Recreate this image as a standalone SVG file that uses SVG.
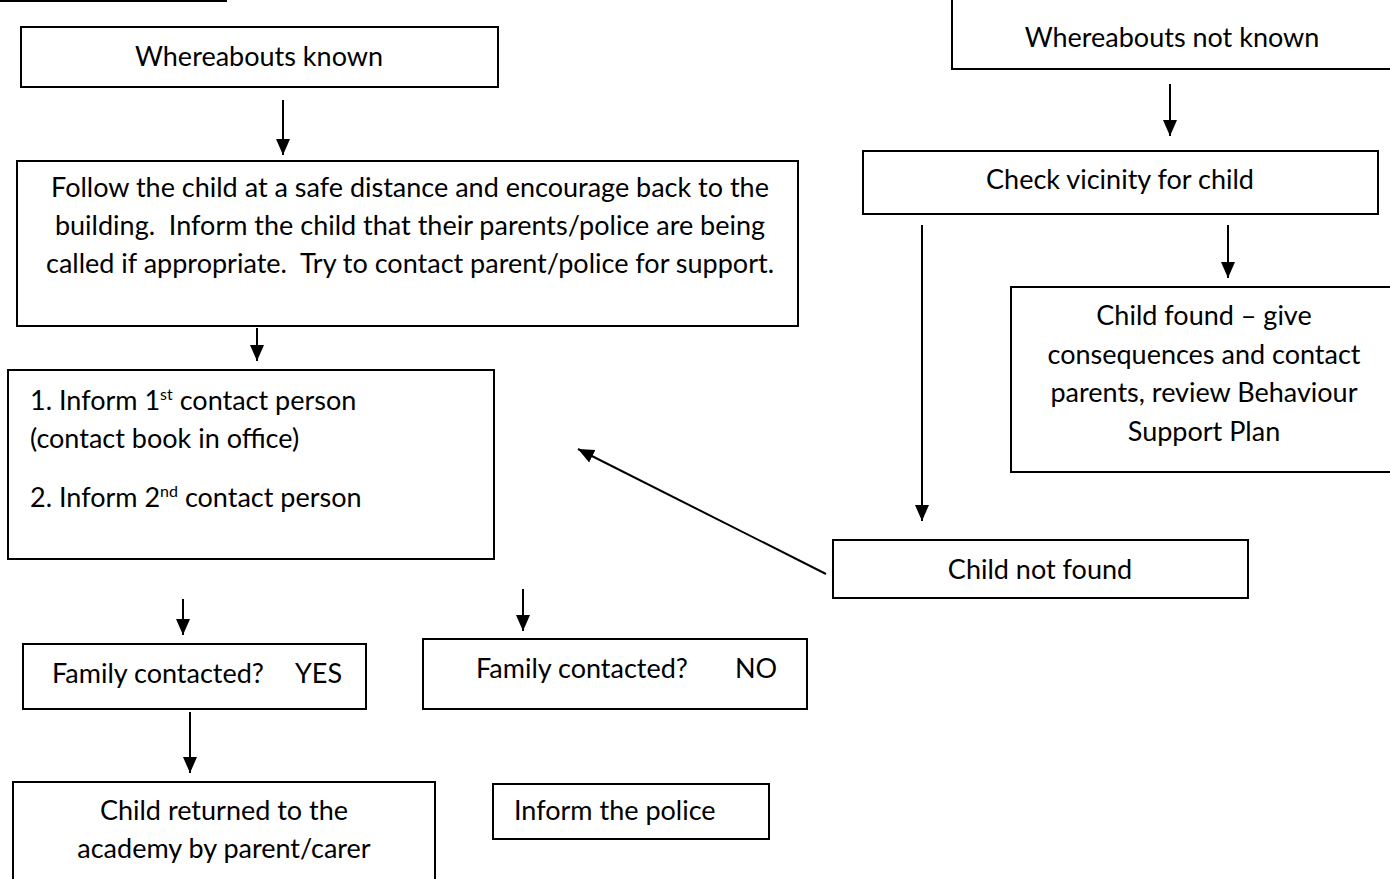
<svg xmlns="http://www.w3.org/2000/svg" width="1390" height="879" viewBox="0 0 1390 879">
<style>
.box{fill:#fff;stroke:#000;stroke-width:2}
.t{font-family:Lato,"Open Sans","Liberation Sans",sans-serif;font-size:27px;fill:#000}
.c{text-anchor:middle}
.con{stroke:#000;stroke-width:2;fill:none;marker-end:url(#ah)}
.sup{font-size:16px}
</style>
<defs>
<marker id="ah" markerUnits="userSpaceOnUse" markerWidth="16" markerHeight="16" refX="16" refY="7" orient="auto">
<path d="M0,0 L16,7 L0,14 Z" fill="#000"/>
</marker>
</defs>
<line x1="0" y1="1" x2="227" y2="1" stroke="#000" stroke-width="2"/>
<g id="connectors">
<line class="con" x1="283" y1="100" x2="283" y2="155"/>
<line class="con" x1="1170" y1="84" x2="1170" y2="136"/>
<line class="con" x1="257" y1="328" x2="257" y2="361"/>
<line class="con" x1="922" y1="225" x2="922" y2="521"/>
<line class="con" x1="1228" y1="225" x2="1228" y2="278"/>
<line class="con" x1="826" y1="574" x2="578" y2="449"/>
<line class="con" x1="183" y1="599" x2="183" y2="635"/>
<line class="con" x1="523" y1="589" x2="523" y2="631"/>
<line class="con" x1="190" y1="712" x2="190" y2="773"/>
</g>
<g id="n1"><rect class="box" x="21" y="27" width="477" height="60"/><text class="t c" x="259" y="66">Whereabouts known</text></g>
<g id="n2"><rect class="box" x="952" y="-2" width="442" height="71"/><text class="t c" x="1172" y="47">Whereabouts not known</text></g>
<g id="n3"><rect class="box" x="17" y="161" width="781" height="165"/>
<text class="t c" x="410" y="197">Follow the child at a safe distance and encourage back to the</text>
<text class="t c" x="410" y="235" xml:space="preserve">building.  Inform the child that their parents/police are being</text>
<text class="t c" x="410" y="273" xml:space="preserve">called if appropriate.  Try to contact parent/police for support.</text></g>
<g id="n4"><rect class="box" x="863" y="151" width="515" height="63"/><text class="t c" x="1120" y="189">Check vicinity for child</text></g>
<g id="n5"><rect class="box" x="1011" y="287" width="383" height="185"/>
<text class="t c" x="1204" y="325">Child found – give</text>
<text class="t c" x="1204" y="364">consequences and contact</text>
<text class="t c" x="1204" y="402">parents, review Behaviour</text>
<text class="t c" x="1204" y="441">Support Plan</text></g>
<g id="n6"><rect class="box" x="8" y="370" width="486" height="189"/>
<text class="t" x="30" y="410">1. Inform 1<tspan class="sup" dy="-10">st</tspan><tspan dy="10"> contact person</tspan></text>
<text class="t" x="30" y="448">(contact book in office)</text>
<text class="t" x="30" y="507">2. Inform 2<tspan class="sup" dy="-10">nd</tspan><tspan dy="10"> contact person</tspan></text></g>
<g id="n7"><rect class="box" x="833" y="540" width="415" height="58"/><text class="t c" x="1040" y="579">Child not found</text></g>
<g id="n8"><rect class="box" x="23" y="644" width="343" height="65"/><text class="t" x="52" y="683">Family contacted?</text><text class="t" x="295" y="683">YES</text></g>
<g id="n9"><rect class="box" x="423" y="639" width="384" height="70"/><text class="t" x="476" y="678">Family contacted?</text><text class="t" x="735" y="678">NO</text></g>
<g id="n10"><rect class="box" x="13" y="782" width="422" height="100"/>
<text class="t c" x="224" y="820">Child returned to the</text>
<text class="t c" x="224" y="858">academy by parent/carer</text></g>
<g id="n11"><rect class="box" x="493" y="784" width="276" height="55"/><text class="t" x="514" y="820">Inform the police</text></g>
</svg>
